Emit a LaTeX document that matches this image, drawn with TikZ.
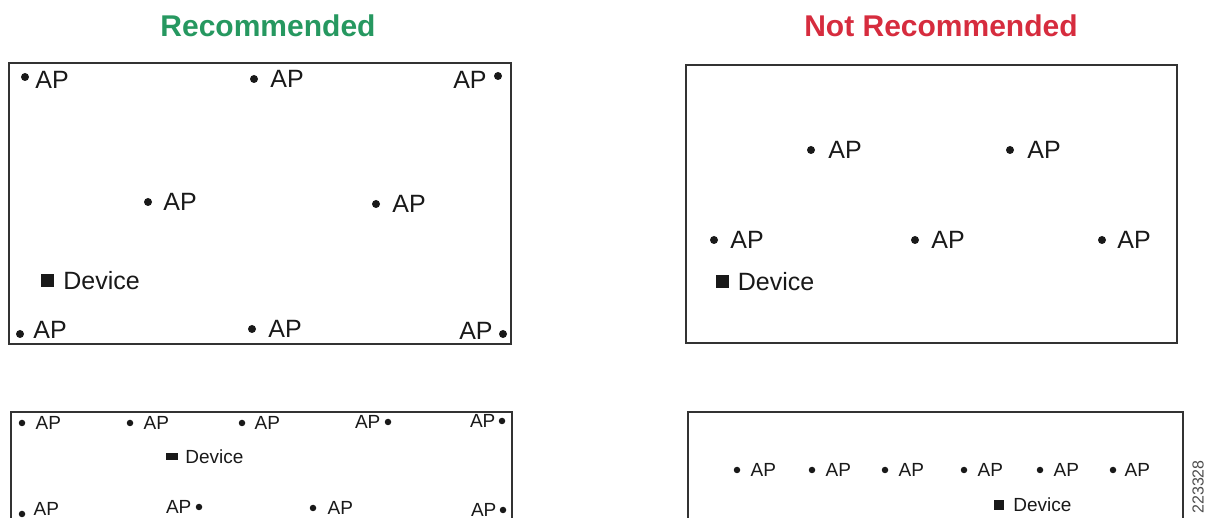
\documentclass[tikz,border=0pt]{standalone}
\usepackage{fontspec}
\setmainfont{Liberation Sans}
\usepackage{xcolor}
\usetikzlibrary{positioning}
\definecolor{recgreen}{RGB}{38,152,96}
\definecolor{notred}{RGB}{214,44,62}
\tikzset{
  areabox/.style={draw=black!80, line width=1.5pt},
  heading/.style={inner sep=0pt, font=\fontsize{30}{36}\selectfont\bfseries},
  apdot/.style={circle, fill=black!90, inner sep=0pt, minimum size=8pt},
  smalldot/.style={apdot, minimum size=6.5pt},
  aplabel/.style={inner sep=0pt, text=black!90, font=\fontsize{25}{30}\selectfont},
  smalllabel/.style={aplabel, font=\fontsize{19}{23}\selectfont},
  devsq/.style={rectangle, fill=black!90, inner sep=0pt, minimum size=13pt},
  smallsq/.style={devsq, minimum size=10pt},
  idnum/.style={rotate=90, anchor=east, inner sep=0pt, text=black!70, font=\fontsize{16}{16}\selectfont}
}

\begin{document}
\begin{tikzpicture}[x=1pt, y=-1pt]
  \useasboundingbox (0,0) rectangle (1211,518);
  \clip (0,0) rectangle (1211,518);

  \node[heading, text=recgreen] (rec) at (268,26) {Recommended};
  \node[heading, text=notred] (notrec) at (941,26) {Not Recommended};

  % recommended, large floor
  \draw[areabox] (9,63) rectangle (511,344);
  \node[apdot] (r1) at (25,77) {};
  \node[aplabel, right=6pt of r1, yshift=-3pt] (r1t) {AP};
  \node[apdot] (r2) at (254,79) {};
  \node[aplabel, right=12pt of r2] (r2t) {AP};
  \node[apdot] (r3) at (498,76) {};
  \node[aplabel, left=7pt of r3, yshift=-4pt] (r3t) {AP};
  \node[apdot] (r4) at (148,202) {};
  \node[aplabel, right=11pt of r4] (r4t) {AP};
  \node[apdot] (r5) at (376,204) {};
  \node[aplabel, right=12pt of r5] (r5t) {AP};
  \node[devsq] (rdev) at (47.5,281) {};
  \node[aplabel, right=9pt of rdev] (rdevt) {Device};
  \node[apdot] (r6) at (20,334) {};
  \node[aplabel, right=9pt of r6, yshift=4pt] (r6t) {AP};
  \node[apdot] (r7) at (252,329) {};
  \node[aplabel, right=12pt of r7] (r7t) {AP};
  \node[apdot] (r8) at (503,334) {};
  \node[aplabel, left=6pt of r8, yshift=3pt] (r8t) {AP};

  % not recommended, large floor
  \draw[areabox] (686,65) rectangle (1177,343);
  \node[apdot] (n1) at (811,150) {};
  \node[aplabel, right=13pt of n1] (n1t) {AP};
  \node[apdot] (n2) at (1010,150) {};
  \node[aplabel, right=13pt of n2] (n2t) {AP};
  \node[apdot] (n3) at (714,240) {};
  \node[aplabel, right=12pt of n3] (n3t) {AP};
  \node[apdot] (n4) at (915,240) {};
  \node[aplabel, right=12pt of n4] (n4t) {AP};
  \node[apdot] (n5) at (1102,240) {};
  \node[aplabel, right=11pt of n5] (n5t) {AP};
  \node[devsq] (ndev) at (722,281.5) {};
  \node[aplabel, right=9pt of ndev] (ndevt) {Device};

  % recommended, narrow floor
  \draw[areabox] (11,412) rectangle (512,560);
  \node[smalldot] (s1) at (22,423) {};
  \node[smalllabel, right=10pt of s1] (s1t) {AP};
  \node[smalldot] (s2) at (130,423) {};
  \node[smalllabel, right=10pt of s2] (s2t) {AP};
  \node[smalldot] (s3) at (242,423) {};
  \node[smalllabel, right=9pt of s3] (s3t) {AP};
  \node[smalldot] (s4) at (388,422) {};
  \node[smalllabel, left=4pt of s4] (s4t) {AP};
  \node[smalldot] (s5) at (502,421) {};
  \node[smalllabel, left=3pt of s5] (s5t) {AP};
  \node[smallsq, minimum width=12pt, minimum height=7pt] (sdev) at (172,457) {};
  \node[smalllabel, right=7pt of sdev] (sdevt) {Device};
  \node[smalldot] (s6) at (22,514) {};
  \node[smalllabel, right=8pt of s6, yshift=5pt] (s6t) {AP};
  \node[smalldot] (s7) at (199,507) {};
  \node[smalllabel, left=4pt of s7] (s7t) {AP};
  \node[smalldot] (s8) at (313,508) {};
  \node[smalllabel, right=11pt of s8] (s8t) {AP};
  \node[smalldot] (s9) at (503,510) {};
  \node[smalllabel, left=3pt of s9] (s9t) {AP};

  % not recommended, narrow floor
  \draw[areabox] (688,412) rectangle (1183,560);
  \node[smalldot] (t1) at (737,470) {};
  \node[smalllabel, right=10pt of t1] (t1t) {AP};
  \node[smalldot] (t2) at (812,470) {};
  \node[smalllabel, right=10pt of t2] (t2t) {AP};
  \node[smalldot] (t3) at (885,470) {};
  \node[smalllabel, right=10pt of t3] (t3t) {AP};
  \node[smalldot] (t4) at (964,470) {};
  \node[smalllabel, right=10pt of t4] (t4t) {AP};
  \node[smalldot] (t5) at (1040,470) {};
  \node[smalllabel, right=10pt of t5] (t5t) {AP};
  \node[smalldot] (t6) at (1113,470) {};
  \node[smalllabel, right=8pt of t6] (t6t) {AP};
  \node[smallsq] (tdev) at (999,505) {};
  \node[smalllabel, right=9pt of tdev] (tdevt) {Device};

  \node[idnum] (fig) at (1198,460) {223328};
\end{tikzpicture}
\end{document}
